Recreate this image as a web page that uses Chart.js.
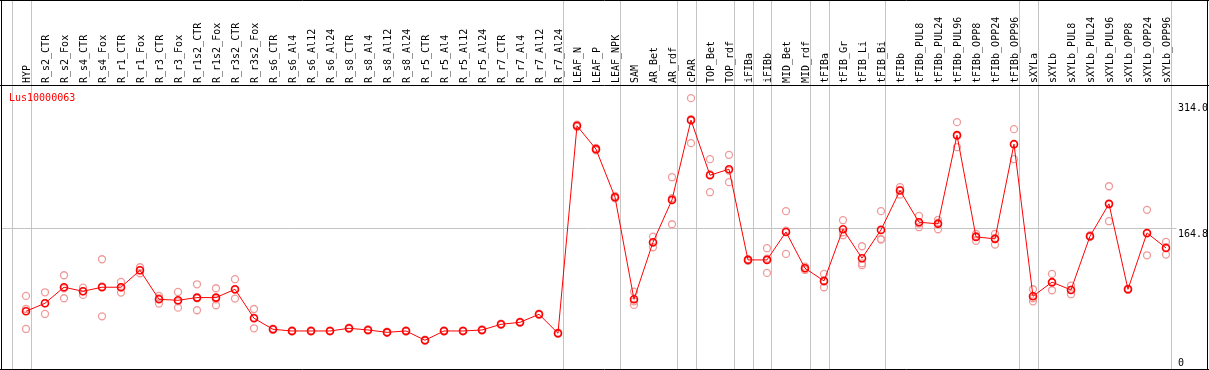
<!DOCTYPE html>
<html>
<head>
<meta charset="utf-8">
<script src="https://cdn.jsdelivr.net/npm/chart.js@4"></script>
<style>
	body { margin: 0; background: #fff; }
	#wrap { width: 1209px; height: 370px; }
</style>
</head>
<body>
<div id="wrap"><canvas id="myLineChart" width="1209" height="370"></canvas></div>
<script>

const geneName = "Lus10000063";

const categories = [
	"HYP", "R_s2_CTR", "R_s2_Fox", "R_s4_CTR", "R_s4_Fox", "R_r1_CTR", "R_r1_Fox", "R_r3_CTR", "R_r3_Fox",
	"R_r1s2_CTR", "R_r1s2_Fox", "R_r3s2_CTR", "R_r3s2_Fox", "R_s6_CTR", "R_s6_Al4", "R_s6_Al12", "R_s6_Al24",
	"R_s8_CTR", "R_s8_Al4", "R_s8_Al12", "R_s8_Al24", "R_r5_CTR", "R_r5_Al4", "R_r5_Al12", "R_r5_Al24",
	"R_r7_CTR", "R_r7_Al4", "R_r7_Al12", "R_r7_Al24", "LEAF_N", "LEAF_P", "LEAF_NPK", "SAM", "AR_Bet", "AR_rdf",
	"cPAR", "TOP_Bet", "TOP_rdf", "iFIBa", "iFIBb", "MID_Bet", "MID_rdf", "tFIBa", "tFIB_Gr", "tFIB_Li", "tFIB_Bi",
	"tFIBb", "tFIBb_PUL8", "tFIBb_PUL24", "tFIBb_PUL96", "tFIBb_OPP8", "tFIBb_OPP24", "tFIBb_OPP96",
	"sXYLa", "sXYLb", "sXYLb_PUL8", "sXYLb_PUL24", "sXYLb_PUL96", "sXYLb_OPP8", "sXYLb_OPP24", "sXYLb_OPP96"
];

// mean expression per sample
const meanValues = [
	66.1, 75.6, 94.6, 89.8, 94.6, 94.6, 114.7, 80.3, 79.1, 82.3, 82.3, 92.2, 57.8,
	44.7, 42.7, 42.7, 42.7, 45.9, 43.9, 41.1, 42.7, 31.7, 42.7, 42.7, 43.9, 50.6, 53.0, 62.5, 40.0,
	286.1, 258.4, 201.4,
	80.3, 148.0, 198.2, 292.8, 227.5, 234.6, 127.0, 127.0, 160.2, 117.1, 102.1, 163.4, 129.0, 162.6,
	209.3, 171.7, 169.8, 275.0, 154.3, 152.0, 264.3,
	83.9, 100.6, 91.4, 155.1, 193.5, 92.2, 159.0, 141.2
];

// replicates
const rep1 = [
	84.3, 88.6, 108.8, 94.2, 127.8, 100.9, 118.3, 84.3, 89.0, 98.1, 93.4, 104.1, 68.8,
	45.5, 43.4, 43.4, 43.2, 46.6, 44.6, 41.8, 43.4, 32.4, 43.4, 43.2, 44.6, 51.3, 53.7, 63.2, 40.7,
	287.5, 259.8, 202.8,
	89.4, 154.7, 225.1, 318.9, 246.5, 251.6, 128.0, 140.9, 184.8, 119.1, 110.4, 174.1, 143.2, 184.8,
	213.3, 179.2, 174.5, 290.4, 157.9, 157.9, 282.1,
	92.2, 110.4, 96.5, 156.3, 214.4, 92.9, 186.4, 148.4
];
const rep2 = [
	45.1, 62.9, 81.5, 85.5, 60.1, 88.2, 111.2, 75.2, 70.4, 67.3, 73.2, 81.1, 45.9,
	43.9, 42.0, 42.0, 42.2, 45.2, 43.2, 40.4, 42.0, 31.0, 42.0, 42.2, 43.2, 49.9, 52.3, 61.8, 39.3,
	284.7, 257.0, 200.0,
	73.6, 142.0, 169.3, 265.5, 207.3, 219.2, 126.0, 111.6, 134.1, 115.1, 94.6, 156.3, 120.7, 151.1,
	204.5, 165.8, 163.4, 260.7, 149.6, 145.2, 246.5,
	77.9, 91.0, 86.3, 154.3, 172.9, 91.5, 132.5, 133.3
];
const rep3 = [
	68.8, 75.6, 93.4, 89.8, 95.7, 94.6, 114.7, 81.5, 77.9, 81.5, 80.3, 91.4, 58.6,
	44.7, 42.7, 42.7, 42.7, 45.9, 43.9, 41.1, 42.7, 31.7, 42.7, 42.7, 43.9, 50.6, 53.0, 62.5, 40.0,
	286.1, 258.4, 201.4,
	77.9, 147.2, 200.2, 294.0, 228.7, 233.0, 127.0, 128.6, 161.8, 117.1, 101.3, 159.8, 123.0, 151.9,
	210.1, 170.1, 171.3, 273.8, 155.5, 152.7, 264.3,
	81.5, 100.1, 91.4, 154.7, 193.1, 92.2, 158.3, 142.0
];

const yTickValues = [0, 164.8, 314.0];
const yGridValues = [164.8];

// first sample index of each group (plus the end)
const groupStarts = [0, 1, 29, 32, 35, 36, 38, 39, 40, 42, 43, 46, 53, 54, 61];

const colors = {
	red: "#ff0000",
	pale: "#f09a9a",
	grid: "#c4c4c4",
	frame: "#000000"
};

const labelFont = "10px 'DejaVu Sans Mono', monospace";
const sepOffset = 0.763; // group separators sit a bit left of the sample

function meanPoints() {
	return meanValues.map((v, i) => ({x: i, y: v}));
}

function repPoints() {
	let pts = [];
	[rep1, rep2, rep3].forEach(function (arr) {
		arr.forEach((v, i) => pts.push({x: i, y: v}));
	});
	return pts;
}

const decorPlugin = {
	id: 'decor',
	beforeDatasetsDraw(chart) {
		const ctx = chart.ctx;
		const x = chart.scales.x;
		const y = chart.scales.y;
		const area = chart.chartArea;
		const W = chart.width;
		ctx.save();
		ctx.lineWidth = 1;
		ctx.strokeStyle = colors.grid;

		// group separators
		groupStarts.forEach(function (k) {
			const px = Math.round(x.getPixelForValue(k - sepOffset)) + 0.5;
			ctx.beginPath();
			ctx.moveTo(px, 0);
			ctx.lineTo(px, area.bottom);
			ctx.stroke();
		});

		// horizontal grid
		yGridValues.forEach(function (v) {
			const py = Math.round(y.getPixelForValue(v)) + 0.5;
			ctx.beginPath();
			ctx.moveTo(1, py);
			ctx.lineTo(area.right + 6, py);
			ctx.stroke();
		});

		// sample names, rotated
		ctx.fillStyle = "#000";
		ctx.font = labelFont;
		ctx.textAlign = 'left';
		ctx.textBaseline = 'alphabetic';
		categories.forEach(function (name, i) {
			const px = x.getPixelForValue(i);
			ctx.save();
			ctx.translate(px + 4, area.top - 3);
			ctx.rotate(-Math.PI / 2);
			ctx.fillText(name, 0, 0);
			ctx.restore();
		});

		// y tick labels on the right
		yTickValues.forEach(function (v) {
			let py = y.getPixelForValue(v) + 8.5;
			py = Math.min(py, area.bottom - 3.5);
			ctx.fillText(v === 0 ? "0" : v.toFixed(1), area.right + 7.5, py);
		});

		// gene name
		ctx.fillStyle = colors.red;
		ctx.fillText(geneName, 9, area.top + 15);

		// frame
		ctx.strokeStyle = colors.frame;
		ctx.beginPath();
		ctx.moveTo(0, 0.5); ctx.lineTo(W, 0.5);
		ctx.moveTo(0, area.top - 0.5); ctx.lineTo(W, area.top - 0.5);
		ctx.moveTo(0, area.bottom + 0.5); ctx.lineTo(W, area.bottom + 0.5);
		ctx.moveTo(1.5, 0); ctx.lineTo(1.5, area.bottom + 1);
		ctx.moveTo(W - 1.5, 0); ctx.lineTo(W - 1.5, area.bottom + 1);
		ctx.stroke();
		ctx.restore();
	}
};

function setupLineChart() {
	Chart.defaults.font.family = "'DejaVu Sans Mono', monospace";
	Chart.defaults.font.size = 10;

	let ctx = document.getElementById("myLineChart").getContext('2d');

	let myChart = new Chart(ctx, {
		type: "line",
		data: {
			datasets: [{
				data: meanPoints(),
				borderColor: colors.red,
				borderWidth: 1,
				pointStyle: 'circle',
				pointRadius: 3.5,
				pointBorderWidth: 1.6,
				pointBorderColor: colors.red,
				pointBackgroundColor: 'rgba(0,0,0,0)',
				tension: 0,
				fill: false,
				clip: false,
				order: 1
			}, {
				data: repPoints(),
				showLine: false,
				pointStyle: 'circle',
				pointRadius: 3.5,
				pointBorderWidth: 1.3,
				pointBorderColor: colors.pale,
				pointBackgroundColor: 'rgba(0,0,0,0)',
				clip: false,
				order: 2
			}]
		},
		options: {
			responsive: false,
			animation: false,
			devicePixelRatio: 1,
			layout: {
				autoPadding: false,
				padding: {left: 11.5, right: 38.5, top: 86, bottom: 1}
			},
			scales: {
				x: {
					type: 'linear',
					min: -sepOffset,
					max: categories.length - sepOffset,
					display: false
				},
				y: {
					type: 'linear',
					min: -2.4,
					max: 333.3,
					display: false
				}
			},
			plugins: {
				legend: {display: false},
				tooltip: {enabled: false}
			}
		},
		plugins: [decorPlugin]
	});
	return myChart;
}

setupLineChart();
</script>
</body>
</html>
